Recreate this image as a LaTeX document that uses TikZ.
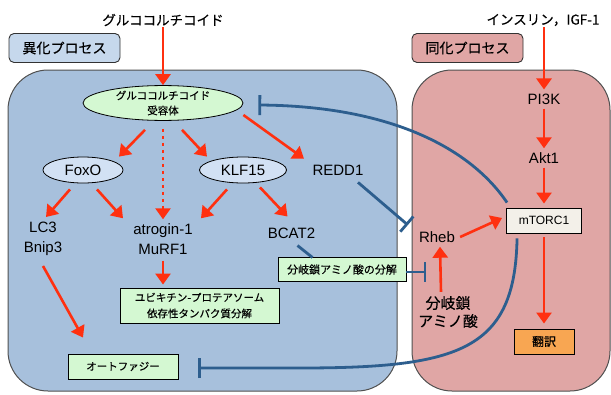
\documentclass[tikz,border=0pt]{standalone}
\usepackage{fontspec}
\setmainfont{Liberation Sans}
\newfontfamily\jp{Noto Sans CJK JP}[FakeBold=0.3]
\usetikzlibrary{arrows.meta,shapes.geometric,calc}
\definecolor{redc}{RGB}{255,48,16}
\definecolor{bluec}{RGB}{45,94,142}
\definecolor{bluepanel}{RGB}{167,192,220}
\definecolor{pinkpanel}{RGB}{224,166,165}
\definecolor{bluelabel}{RGB}{198,216,236}
\definecolor{blueell}{RGB}{210,225,244}
\definecolor{greenc}{RGB}{212,248,210}
\definecolor{orangec}{RGB}{248,166,82}
\definecolor{mtc}{RGB}{243,240,233}
\definecolor{panelline}{RGB}{80,80,80}
\begin{document}
\begin{tikzpicture}[x=1pt,y=-1pt,
  ra/.style={draw=redc, line width=2.6pt, -{Triangle[length=11pt,width=15pt]}},
  inh/.style={draw=bluec, line width=2.8pt, -{Bar[width=20pt]}},
  bl/.style={draw=bluec, line width=2.8pt},
  ell/.style={ellipse, draw=black, line width=0.8pt, inner sep=0pt},
  boxn/.style={rectangle, draw=black, line width=0.9pt, inner sep=0pt, align=center},
  lbl/.style={rectangle, rounded corners=5pt, draw=black!80, line width=0.9pt, inner sep=0pt,
    minimum width=111pt, minimum height=29pt, font=\jp\fontsize{14}{16}\selectfont},
  txt/.style={inner sep=0pt, align=center, font=\fontsize{15}{20}\selectfont},
  panel/.style={draw=panelline, line width=1pt, rounded corners=40pt}
]
\useasboundingbox (0,0) rectangle (611,394);
% panels
\path[panel, fill=bluepanel] (8,70) rectangle (397,391);
\path[panel, fill=pinkpanel] (412,70) rectangle (610,391);
\node[lbl, fill=bluelabel] (ika) at (64.5,48) {異化プロセス};
\node[lbl, fill=pinkpanel] (doka) at (467.5,48) {同化プロセス};
% titles
\node[inner sep=1pt, font=\jp\fontsize{13.5}{15}\selectfont] (gc) at (163,20) {グルココルチコイド};
\node[inner sep=1pt, font=\jp\fontsize{13.5}{15}\selectfont] (ins) at (543,20) {インスリン，IGF-1};
% left nodes
\node[ell, fill=greenc, minimum width=160pt, minimum height=34pt, align=center,
  font=\jp\fontsize{10.5}{15}\selectfont] (rec) at (163,103) {グルココルチコイド\\受容体};
\node[ell, fill=blueell, minimum width=80pt, minimum height=26pt, font=\fontsize{15}{18}\selectfont] (foxo) at (83,170) {FoxO};
\node[ell, fill=blueell, minimum width=87pt, minimum height=26pt, font=\fontsize{15}{18}\selectfont] (klf) at (243,170) {KLF15};
\node[txt] (redd) at (338,170) {REDD1};
\node[txt] (lc3) at (43,239) {LC3\\Bnip3};
\node[txt] (atro) at (163,239) {atrogin-1\\MuRF1};
\node[txt] (bcat) at (291.5,233) {BCAT2};
\node[boxn, fill=greenc, minimum width=159pt, minimum height=35pt,
  font=\jp\fontsize{10.5}{16}\selectfont] (ub) at (199.5,305.5) {ユビキチン-プロテアソーム\\依存性タンパク質分解};
\node[boxn, fill=greenc, minimum width=110pt, minimum height=25pt,
  font=\jp\fontsize{10.5}{13}\selectfont] (auto) at (123,366.5) {オートファジー};
\node[boxn, fill=greenc, minimum width=128pt, minimum height=24pt,
  font=\jp\fontsize{11}{13}\selectfont] (br) at (342,269.5) {分岐鎖アミノ酸の分解};
% right nodes
\node[txt] (pi3k) at (544,99) {PI3K};
\node[txt] (akt) at (544,158) {Akt1};
\node[boxn, fill=mtc, minimum width=75pt, minimum height=25pt, font=\fontsize{12}{14}\selectfont] (mt) at (544,220.5) {mTORC1};
\node[boxn, fill=orangec, minimum width=60pt, minimum height=25pt, font=\jp\fontsize{12}{14}\selectfont] (hon) at (544,341.5) {翻訳};
\node[txt] (rheb) at (437,237) {Rheb};
\node[txt, font=\jp\fontsize{15}{18}\selectfont] (amino) at (448,312) {分岐鎖\\アミノ酸};
% red arrows left
\draw[ra] (gc.south) -- (rec.north);
\draw[ra] ($(rec.south)+(-18,9)$) -- ($(foxo.north)+(36,0)$);
\draw[ra] ($(rec.south)+(19,9)$) -- ($(klf.north)+(-36,0)$);
\draw[ra, dash pattern=on 3pt off 4pt] ($(rec.south)+(0,8)$) -- ($(atro.north)+(0,-4)$);
\draw[ra] ($(rec.east)+(0,12)$) -- ($(redd.north)+(-34,-6)$);
\draw[ra] ($(foxo.south)+(-13,6)$) -- ($(lc3.north)+(3,-5)$);
\draw[ra] ($(foxo.south)+(14,6)$) -- ($(atro.north)+(-40,-5)$);
\draw[ra] ($(klf.south)+(-16,6)$) -- ($(atro.north)+(38,-5)$);
\draw[ra] ($(klf.south)+(17,4)$) -- ($(bcat.north)+(-4,-11)$);
\draw[ra] ($(atro.south)+(0,6)$) -- ($(ub.north)+(-36.5,-3)$);
\draw[ra] ($(lc3.south)+(0,10)$) -- ($(auto.north)+(-40,-16)$);
% red arrows right
\draw[ra] (ins.south -| pi3k) -- ($(pi3k.north)+(0,-4)$);
\draw[ra] ($(pi3k.south)+(0,4)$) -- ($(akt.north)+(0,-4)$);
\draw[ra] ($(akt.south)+(0,4)$) -- ($(mt.north)+(0,-4)$);
\draw[ra] ($(mt.south)+(0,4)$) -- ($(hon.north)+(0,-5)$);
\draw[ra] ($(amino.north)+(-7,-4)$) -- ($(rheb.south)+(3,4)$);
\draw[ra] ($(rheb.east)+(5,0)$) -- ($(mt.west)+(-4,-2.5)$);
% blue inhibition
\coordinate (recbar) at ($(rec.east)+(15,2)$);
\draw[inh] ($(mt.north west)+(1,-5)$) .. controls (468,145) and (385,106) .. (recbar);
\coordinate (autobar) at ($(auto.east)+(20,1.5)$);
\draw[inh] ($(mt.south west)+(11,5)$) .. controls (515,350) and (460,368) .. (300,368) -- (autobar);
\draw[inh] ($(redd.south)+(20,7)$) -- ($(rheb.west)+(-11,-12)$);
\draw[bl] ($(bcat.south)+(6,7)$) -- ($(br.north west)+(35,0.5)$);
\draw[inh] ($(br.east)+(0,2.5)$) -- ($(br.east)+(20,2.5)$);
\end{tikzpicture}
\end{document}
